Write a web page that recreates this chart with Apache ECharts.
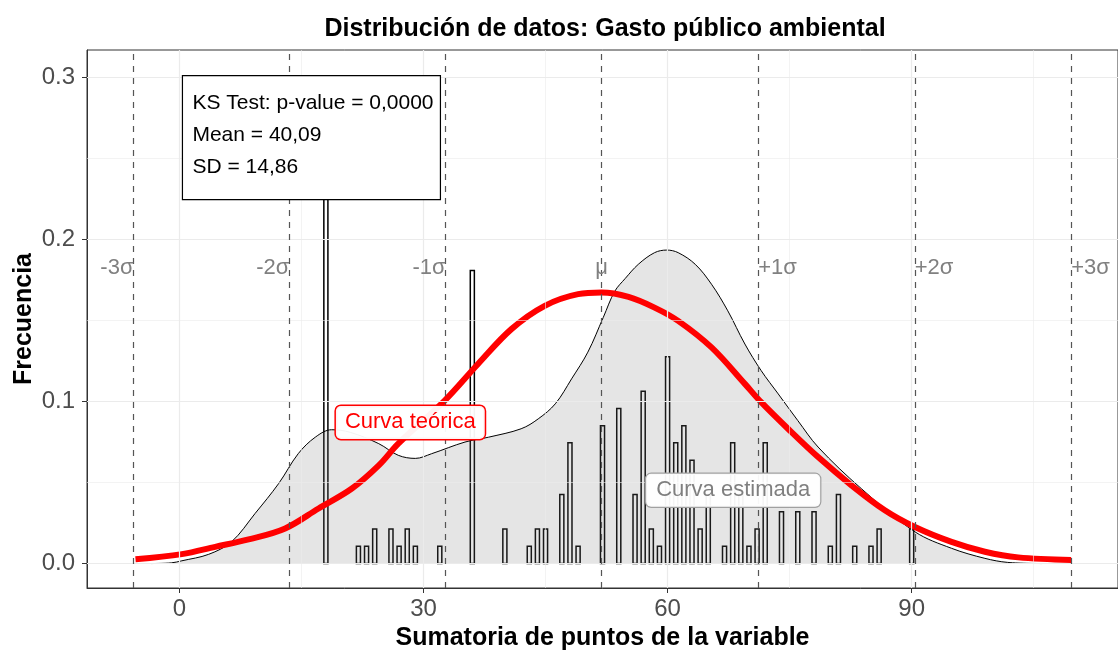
<!DOCTYPE html>
<html><head><meta charset="utf-8">
<script src="https://cdn.jsdelivr.net/npm/echarts@6/dist/echarts.min.js"></script>
<style>html,body{margin:0;padding:0;background:#fff}#c{width:1118px;height:655px}</style>
</head><body><div id="c"></div>
<script>
// Histogram (binwidth 0.5) — bin centres and densities
const barX = [18,22,23,24,26,27,28,29,32,36,40,43,44,45,47,48,49,52,54,56,57,58,59,60,61,62,63,64,65,67,68,69,70,71,72,74,76,78,80,81,83,85,86,90];
const barFreq = [0.2766,0.0106,0.0106,0.0213,0.0213,0.0106,0.0213,0.0106,0.0106,0.1809,0.0213,0.0106,0.0213,0.0213,0.0426,0.0745,0.0106,0.0851,0.0957,0.0426,0.1064,0.0213,0.0106,0.1277,0.0745,0.0851,0.0638,0.0213,0.0426,0.0106,0.0745,0.0426,0.0106,0.0213,0.0745,0.0319,0.0319,0.0319,0.0106,0.0426,0.0106,0.0106,0.0213,0.0213];
// Estimated (kernel) density curve
const densX = [-3.5,-1.0,0.3,3.6,6.4,9.3,12.2,14.6,16.7,18.7,21.0,24.5,26.9,29.0,31.0,35.1,38.0,42.0,44.1,46.2,48.2,50.2,52.1,53.5,54.8,56.4,58.4,59.9,61.3,63.4,65.4,67.4,69.5,71.5,73.6,76.0,78.5,83.8,90.4,94.9,99.0,101.8,106.0];
const densY = [0.0,0.0004,0.0017,0.0057,0.0134,0.0309,0.0494,0.0678,0.0780,0.0826,0.0810,0.0740,0.0668,0.0649,0.0678,0.0750,0.0780,0.0832,0.0893,0.0986,0.1140,0.1305,0.1520,0.1680,0.1760,0.1847,0.1919,0.1935,0.1919,0.1847,0.1724,0.1560,0.1355,0.1191,0.1047,0.0883,0.0719,0.0463,0.0196,0.0094,0.0032,0.0007,0.0];
// Theoretical curve
const normX = [-5.4,0.3,4.4,8.5,13.0,17.1,21.2,24.5,26.9,32.6,36.7,40.8,44.9,49.0,51.9,55.2,58.4,61.3,65.4,69.5,71.5,74.8,78.5,82.6,86.7,90.4,94.9,99.0,103.1,109.6];
const normY = [0.0026,0.0058,0.0103,0.0149,0.0217,0.0340,0.0463,0.0606,0.0740,0.1006,0.1232,0.1447,0.1591,0.1663,0.1673,0.1646,0.1580,0.1498,0.1334,0.1109,0.0996,0.0832,0.0657,0.0483,0.0329,0.0226,0.0134,0.0073,0.0038,0.0022];
// Sigma reference lines
const sigmaX = [-5.65,13.51,32.72,51.88,71.13,90.38,109.6];
const sigmaLabels = ['-3σ','-2σ','-1σ','μ','+1σ','+2σ','+3σ'];
// Axes
const xTicks = [0,30,60,90];
const xMinor = [15,45,75,105];
const yTicks = [0,0.1,0.2,0.3];
const yMinor = [0.05,0.15,0.25];
const annotLines = ['KS Test: p-value = 0,0000','Mean = 40,09','SD = 14,86'];
const curveLabels = ['Curva teórica','Curva estimada'];

const FONT = 'Liberation Sans, Arial, sans-serif';
const chart = echarts.init(document.getElementById('c'), null, {renderer:'canvas'});

const gridLines = [].concat(
  xMinor.map(v=>({xAxis:v, lineStyle:{width:0.6}})),
  xTicks.map(v=>({xAxis:v, lineStyle:{width:1.2}})),
  yMinor.map(v=>({yAxis:v, lineStyle:{width:0.6}})),
  yTicks.map(v=>({yAxis:v, lineStyle:{width:1.2}}))
);

const option = {
  animation:false,
  backgroundColor:'#fff',
  title:{text:'Distribución de datos: Gasto público ambiental', left:600, top:12, textAlign:'center',
    textStyle:{fontFamily:FONT, fontSize:25, fontWeight:'bold', color:'#000'}},
  grid:{left:87, right:0, top:50, bottom:67, show:true, borderColor:'#333', borderWidth:1, backgroundColor:'#fff',
    outerBoundsMode:'none', containLabel:false},
  xAxis:{type:'value', min:-11.36, max:115.36,
    name:'Sumatoria de puntos de la variable', nameLocation:'middle', nameGap:38, nameMoveOverlap:false,
    nameTextStyle:{fontFamily:FONT, fontSize:25, fontWeight:'bold', color:'#000'},
    axisLine:{show:true, onZero:false, lineStyle:{color:'#333', width:1}},
    axisTick:{show:true, customValues:xTicks, length:5, lineStyle:{color:'#333'}},
    axisLabel:{customValues:xTicks, color:'#4d4d4d', fontFamily:FONT, fontSize:24, margin:9},
    splitLine:{show:false}},
  yAxis:{type:'value', min:-0.0151, max:0.317,
    name:'Frecuencia', nameLocation:'middle', nameGap:50, nameMoveOverlap:false,
    nameTextStyle:{fontFamily:FONT, fontSize:25, fontWeight:'bold', color:'#000'},
    axisLine:{show:true, onZero:false, lineStyle:{color:'#333', width:1}},
    axisTick:{show:true, customValues:yTicks, length:5, lineStyle:{color:'#333'}},
    axisLabel:{customValues:yTicks, formatter:v=>v.toFixed(1), color:'#4d4d4d', fontFamily:FONT, fontSize:24, margin:12},
    splitLine:{show:false}},
  series:[
    {type:'line', data:[], z:0, silent:true,
      markLine:{silent:true, symbol:'none', animation:false, label:{show:false},
        lineStyle:{color:'#ebebeb', type:'solid'}, data:gridLines}},
    {type:'custom', z:1, clip:true,
      data:barX.map((x,i)=>[x,barFreq[i]]),
      renderItem:(params, api)=>{
        const x = api.value(0), y = api.value(1);
        const p1 = api.coord([x-0.25, y]);
        const p2 = api.coord([x+0.25, 0]);
        return {type:'rect', shape:{x:p1[0], y:p1[1], width:p2[0]-p1[0], height:p2[1]-p1[1]},
          style:{fill:'#fff', stroke:'#000', lineWidth:1.5}};
      }},
    {type:'line', z:2, data:densX.map((x,i)=>[x,densY[i]]), smooth:0.35, symbol:'none',
      lineStyle:{color:'#000', width:1}, areaStyle:{color:'rgba(127,127,127,0.2)', opacity:1}},
    {type:'line', data:[], z:3, silent:true,
      markLine:{silent:true, symbol:'none', animation:false, label:{show:false},
        lineStyle:{color:'#555', type:[6,6], width:1.2}, data:sigmaX.map(v=>({xAxis:v}))}},
    {type:'line', z:4, data:normX.map((x,i)=>[x,normY[i]]), smooth:0.35, symbol:'none',
      lineStyle:{color:'#ff0000', width:6}},
    {type:'custom', z:5, data:sigmaX.map((x,i)=>[x,0.1825,i]),
      renderItem:(params, api)=>{
        const i = api.value(2);
        const p = api.coord([api.value(0), api.value(1)]);
        const align = i<3 ? 'right' : (i===3 ? 'center' : 'left');
        return {type:'text', x:p[0], y:p[1],
          style:{text:sigmaLabels[i], fill:'#808080', font:'22px '+FONT, align:align, verticalAlign:'middle'}};
      }},
    {type:'custom', z:6, data:[[28.38,0.0871,0],[68.06,0.0452,1]],
      renderItem:(params, api)=>{
        const i = api.value(2);
        const p = api.coord([api.value(0), api.value(1)]);
        const red = i===0;
        return {type:'text', x:p[0], y:p[1],
          style:{text:curveLabels[i], fill:red?'#ff0000':'#7f7f7f', font:'22px '+FONT, align:'center', verticalAlign:'middle',
            backgroundColor:'rgba(255,255,255,0.95)', borderColor:red?'#ff0000':'#a0a0a0', borderWidth:red?1.5:1.2,
            borderRadius:5, padding:red?[6,9,5,9]:[6,10,5,10]}};
      }},
    {type:'custom', z:7, data:[[0.37,0.3012]],
      renderItem:(params, api)=>{
        const p = api.coord([api.value(0), api.value(1)]);
        const children = [{type:'rect', shape:{x:0, y:0, width:258, height:124},
          style:{fill:'#fff', stroke:'#000', lineWidth:1.2}}];
        annotLines.forEach((t,k)=>{
          children.push({type:'text', x:10, y:28+k*32,
            style:{text:t, fill:'#000', font:'21px '+FONT, align:'left', verticalAlign:'middle'}});
        });
        return {type:'group', x:p[0], y:p[1], children:children};
      }}
  ]
};
chart.setOption(option);
</script></body></html>
